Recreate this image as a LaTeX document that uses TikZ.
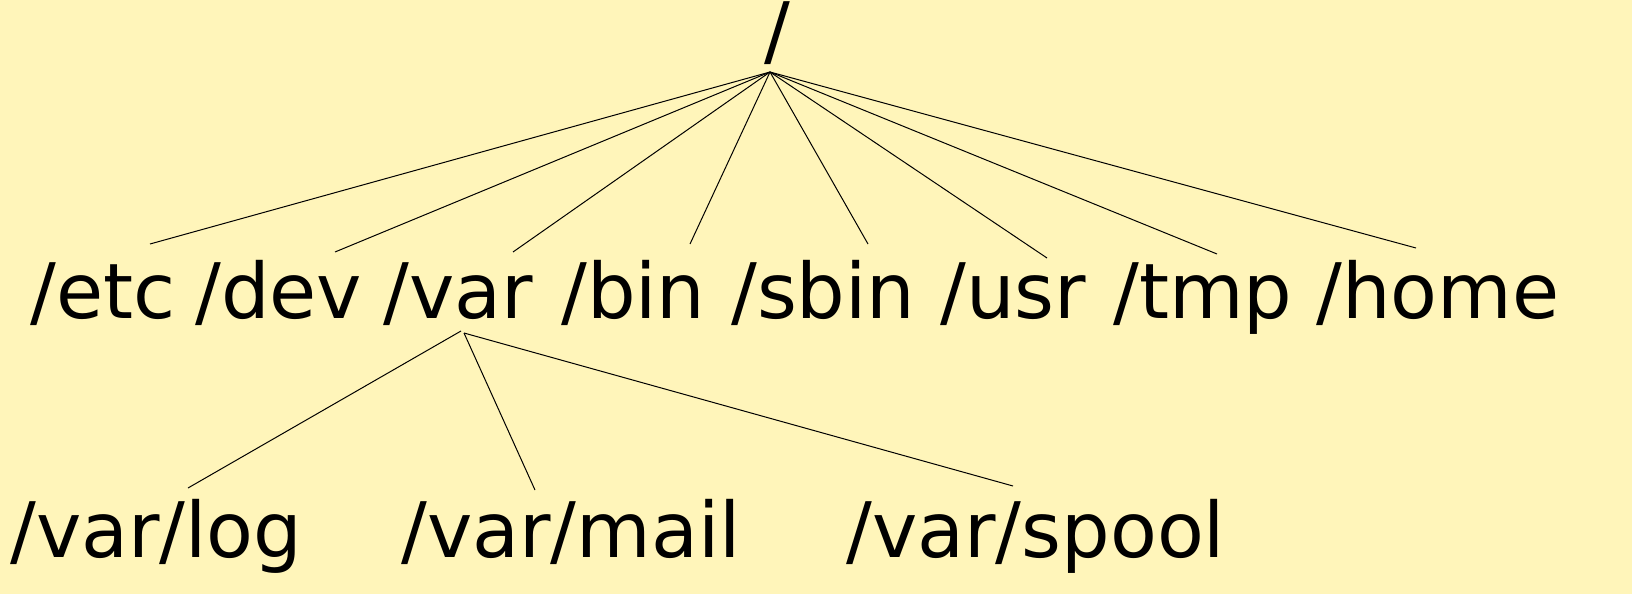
\documentclass[tikz,border=0pt]{standalone}
\usepackage{fontspec}
\setmainfont{DejaVu Sans}
\usetikzlibrary{positioning}
\definecolor{paper}{HTML}{FFF5BA}

\begin{document}
\begin{tikzpicture}[x=1pt,y=-1pt,every node/.style={anchor=base west,inner sep=0pt,font=\fontsize{76.6}{80}\selectfont}]
\useasboundingbox (0,0) rectangle (1632,594);
\fill[paper] (0,0) rectangle (1632,594);

\node (root) at (764,58){/};
\node (etc) at (30,318){/etc};
\node (dev) at (195,318){/dev};
\node (var) at (383,318){/var};
\node (bin) at (561,318){/bin};
\node (sbin) at (731,318){/sbin};
\node (usr) at (940,318){/usr};
\node (tmp) at (1113,318){/tmp};
\node (home) at (1316,318){/home};
\node (log) at (10,557){/var/log};
\node (mail) at (401,557){/var/mail};
\node (spool) at (846,557){/var/spool};

%line ends
\coordinate (r) at (770,72);
\coordinate (e1) at (150,244);
\coordinate (e2) at (335,252);
\coordinate (e3) at (513,252);
\coordinate (e4) at (690,244);
\coordinate (e5) at (868,244);
\coordinate (e6) at (1047,258);
\coordinate (e7) at (1217,254);
\coordinate (e8) at (1416,248);
\coordinate (v1) at (461,331);
\coordinate (v2) at (464,333);
\coordinate (l1) at (188,488);
\coordinate (l2) at (535,490);
\coordinate (l3) at (1013,486);

\begin{scope}[line width=1pt]
\foreach \n in {e1,e2,e3,e4,e5,e6,e7,e8}
  \draw (r) -- (\n);
\draw (v1) -- (l1);
\draw (v2) -- (l2);
\draw (v2) -- (l3);
\end{scope}
\end{tikzpicture}
\end{document}
